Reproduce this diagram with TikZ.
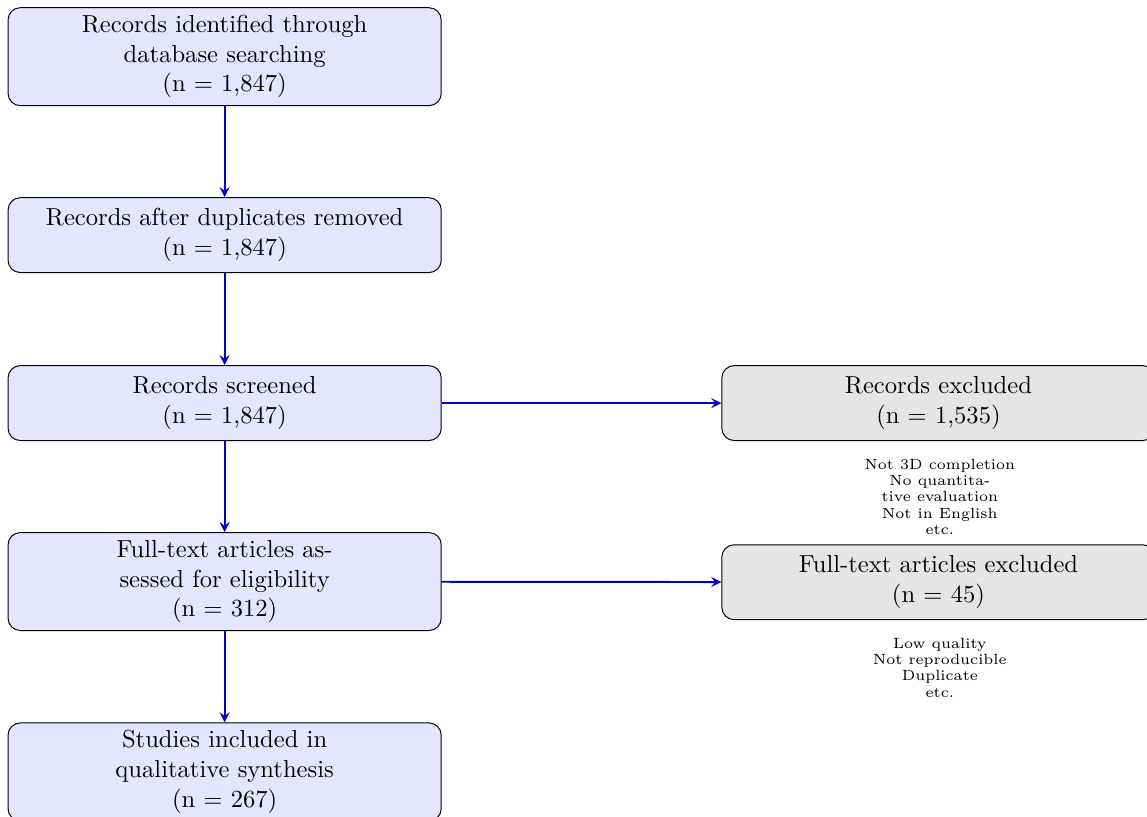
\documentclass[tikz,border=0pt]{standalone}
\usetikzlibrary{arrows}

\tikzset{
  stage/.style={draw, rounded corners=5pt, fill=blue!10, align=center,
    minimum width=6.19cm, inner sep=2pt},
  dropped/.style={draw, rounded corners=5pt, fill=black!10, align=center,
    minimum width=6.19cm, minimum height=1.07cm},
  reasons/.style={font=\fontsize{6}{6.6}\selectfont, align=center},
  flow/.style={->, >=stealth, thick, blue!75!black}
}

\begin{document}
\begin{tikzpicture}
\useasboundingbox (0,0) rectangle (16.39,-11.67);
% main column
\node (ident) at (3.21,-0.81) [stage, minimum height=1.4cm]
  {Records identified through\\ database searching\\ (n = 1,847)};
\node (dedup) at (3.21,-3.36) [stage, minimum height=1.07cm]
  {Records after duplicates removed\\ (n = 1,847)};
\node (screen) at (3.21,-5.76) [stage, minimum height=1.07cm]
  {Records screened\\ (n = 1,847)};
\node (full) at (3.21,-8.31) [stage, minimum height=1.4cm]
  {Full-text articles as-\\ sessed for eligibility\\ (n = 312)};
\node (incl) at (3.21,-11.03) [stage, minimum height=1.4cm]
  {Studies included in\\ qualitative synthesis\\ (n = 267)};
%
% exclusions
\node (recex) at (13.41,-5.76) [dropped] {Records excluded\\ (n = 1,535)};
\node (fullex) at (13.41,-8.32) [dropped] {Full-text articles excluded\\ (n = 45)};
\node (recwhy) at (13.43,-7.1) [reasons]
  {Not 3D completion\\ No quantita-\\ tive evaluation\\ Not in English\\ etc.};
\node (fullwhy) at (13.43,-9.54) [reasons]
  {Low quality\\ Not reproducible\\ Duplicate\\ etc.};
%
\draw [flow] (ident) -- (dedup);
\draw [flow] (dedup) -- (screen);
\draw [flow] (screen) -- (full);
\draw [flow] (full) -- (incl);
\draw [flow] (screen) -- (recex);
\draw [flow] (full) -- (fullex);
\end{tikzpicture}
\end{document}
